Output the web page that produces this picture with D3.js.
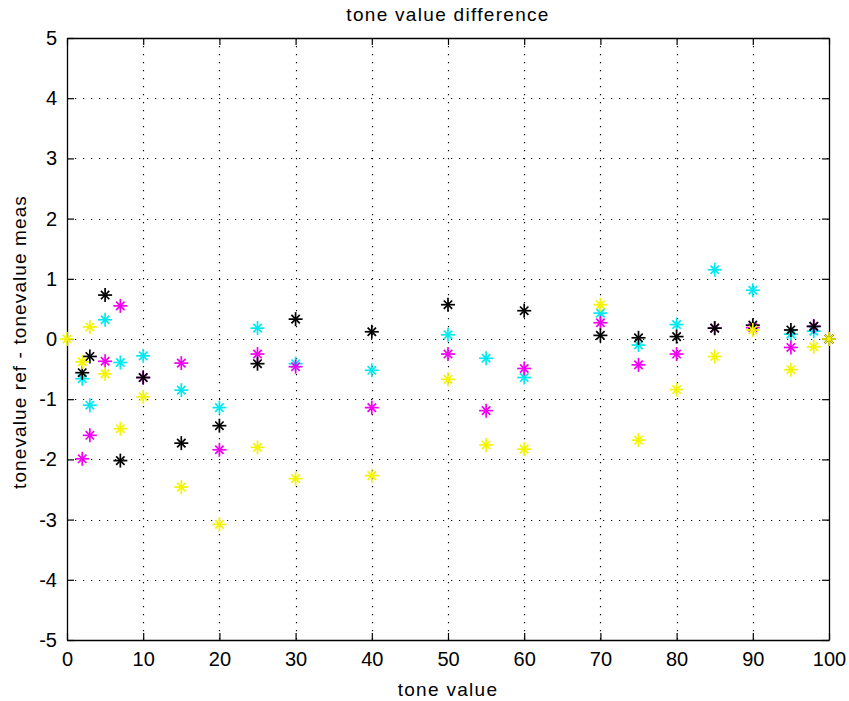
<!DOCTYPE html>
<html>
<head>
<meta charset="utf-8">
<script src="https://cdn.jsdelivr.net/npm/d3@7"></script>
<style>
  body { margin: 0; background: #fff; }
  text { font-family: "Liberation Sans", Arial, sans-serif; fill: #000; }
</style>
</head>
<body>
<div id="chart"></div>
<script>
// tone values on the x axis
var tones = [0, 2, 3, 5, 7, 10, 15, 20, 25, 30, 40, 50, 55, 60, 70, 75, 80, 85, 90, 95, 98, 100];

// difference ref - meas for each ink (null = not plotted)
var cyanDiff    = [null, -0.66, -1.10, 0.32, -0.39, -0.28, -0.85, -1.14, 0.18, -0.41, -0.52, 0.07, -0.32, -0.64, 0.43, -0.10, 0.24, 1.15, 0.81, 0.08, 0.13, 0];
var magentaDiff = [null, -1.99, -1.60, -0.37, 0.55, -0.64, -0.40, -1.84, -0.25, -0.46, -1.14, -0.25, -1.19, -0.49, 0.27, -0.43, -0.25, 0.18, 0.19, -0.14, 0.21, 0];
var blackDiff   = [null, -0.56, -0.29, 0.73, -2.02, -0.64, -1.73, -1.44, -0.41, 0.33, 0.12, 0.57, null, 0.47, 0.06, 0.02, 0.04, 0.18, 0.23, 0.15, 0.21, 0];
var yellowDiff  = [0, -0.38, 0.20, -0.58, -1.49, -0.96, -2.46, -3.08, -1.80, -2.32, -2.27, -0.67, -1.76, -1.83, 0.57, -1.68, -0.84, -0.29, 0.15, -0.51, -0.13, 0];

var xTicks = [0, 10, 20, 30, 40, 50, 60, 70, 80, 90, 100];
var yTicks = [-5, -4, -3, -2, -1, 0, 1, 2, 3, 4, 5];

var series = [
  {name: "cyan", color: "#00e8f0", values: cyanDiff},
  {name: "magenta", color: "#f000f0", values: magentaDiff},
  {name: "black", color: "#000000", values: blackDiff},
  {name: "yellow", color: "#f4f400", values: yellowDiff}
];

var W = 849, H = 701;
var margin = {top: 38, right: 20, bottom: 61, left: 67};
var width = W - margin.left - margin.right,
    height = H - margin.top - margin.bottom;

var svg = d3.select("#chart")
  .append("svg")
    .attr("width", W)
    .attr("height", H);

var g = svg.append("g")
  .attr("transform", "translate(" + margin.left + "," + margin.top + ")");

var x = d3.scaleLinear().domain([0, 100]).range([0, width]);
var y = d3.scaleLinear().domain([-5, 5]).range([height, 0]);

// dotted grid
g.append("g")
  .selectAll("line")
  .data(xTicks.slice(1, -1))
  .enter().append("line")
    .attr("x1", function(d) { return Math.round(x(d)) + 0.5; })
    .attr("x2", function(d) { return Math.round(x(d)) + 0.5; })
    .attr("y1", 0).attr("y2", height)
    .attr("stroke", "#000").attr("stroke-width", 1.2)
    .attr("stroke-dasharray", "1.2,6.8");
g.append("g")
  .selectAll("line")
  .data(yTicks.slice(1, -1))
  .enter().append("line")
    .attr("y1", function(d) { return Math.round(y(d)) + 0.5; })
    .attr("y2", function(d) { return Math.round(y(d)) + 0.5; })
    .attr("x1", 0).attr("x2", width)
    .attr("stroke", "#000").attr("stroke-width", 1.2)
    .attr("stroke-dasharray", "1.2,6.8");

// axes, ticks pointing inward like matlab, plain hyphen for minus
var fmt = function(d) { return String(d); };
var tickLen = 7;
g.append("g")
  .attr("transform", "translate(0," + height + ")")
  .call(d3.axisBottom(x).tickValues(xTicks).tickFormat(fmt).tickSizeInner(-tickLen).tickSizeOuter(0).tickPadding(tickLen + 5));
g.append("g")
  .call(d3.axisTop(x).tickValues(xTicks).tickSizeInner(-tickLen).tickSizeOuter(0).tickFormat(""));
g.append("g")
  .call(d3.axisLeft(y).tickValues(yTicks).tickFormat(fmt).tickSizeInner(-tickLen).tickSizeOuter(0).tickPadding(tickLen + 3));
g.append("g")
  .attr("transform", "translate(" + width + ",0)")
  .call(d3.axisRight(y).tickValues(yTicks).tickSizeInner(-tickLen).tickSizeOuter(0).tickFormat(""));

g.selectAll(".domain").attr("stroke", "#000").attr("stroke-width", 1.3);
g.selectAll(".tick line").attr("stroke", "#000").attr("stroke-width", 1.2);
g.selectAll(".tick text")
  .style("font-family", "'Liberation Sans', Arial, sans-serif")
  .style("font-size", "20px")
  .attr("fill", "#000");

// asterisk markers
function asterisk(sel, color) {
  var a = 7, b = 4.2;
  sel.append("line").attr("x1", -a).attr("x2", a).attr("y1", 0).attr("y2", 0);
  sel.append("line").attr("x1", 0).attr("x2", 0).attr("y1", -a).attr("y2", a);
  sel.append("line").attr("x1", -b).attr("x2", b).attr("y1", -b).attr("y2", b);
  sel.append("line").attr("x1", -b).attr("x2", b).attr("y1", b).attr("y2", -b);
  sel.selectAll("line").attr("stroke", color).attr("stroke-width", 1.7);
}

series.forEach(function(s) {
  var pts = tones.map(function(t, i) { return {t: t, v: s.values[i]}; })
    .filter(function(d) { return d.v !== null; });
  g.append("g")
    .selectAll("g")
    .data(pts)
    .enter().append("g")
      .attr("transform", function(d) { return "translate(" + x(d.t) + "," + y(d.v) + ")"; })
      .call(asterisk, s.color);
});

// title and labels
svg.append("text")
  .attr("x", margin.left + width / 2).attr("y", 21)
  .attr("text-anchor", "middle")
  .style("font-size", "19px")
  .style("letter-spacing", "1.3px")
  .text("tone value difference");

svg.append("text")
  .attr("x", margin.left + width / 2).attr("y", 696)
  .attr("text-anchor", "middle")
  .style("font-size", "19px")
  .style("letter-spacing", "1.3px")
  .text("tone value");

svg.append("text")
  .attr("transform", "translate(26," + (margin.top + height / 2 + 3) + ") rotate(-90)")
  .attr("text-anchor", "middle")
  .style("font-size", "19px")
  .style("letter-spacing", "1.1px")
  .text("tonevalue ref - tonevalue meas");
</script>
</body>
</html>
